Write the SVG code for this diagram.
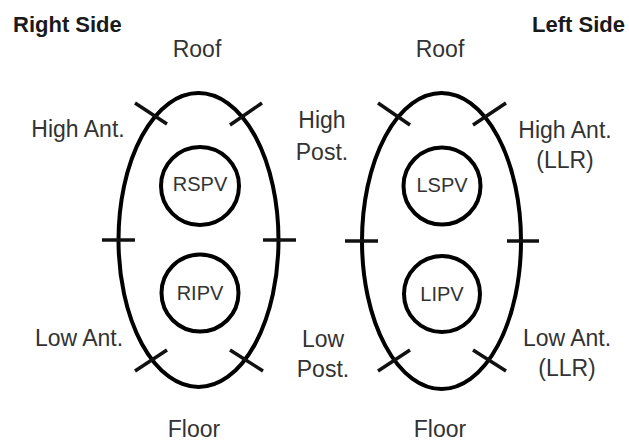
<svg xmlns="http://www.w3.org/2000/svg" width="629" height="443" viewBox="0 0 629 443">
<style>
.shape{fill:none;stroke:#000;stroke-width:4}
.tick{fill:none;stroke:#111;stroke-width:3.5;stroke-linecap:butt}
.lbl{font-family:"Liberation Sans",Arial,sans-serif;font-size:23px;fill:#333;text-anchor:middle}
.pv{font-family:"Liberation Sans",Arial,sans-serif;font-size:20px;fill:#333;text-anchor:middle}
.title{font-family:"Liberation Sans",Arial,sans-serif;font-size:22px;font-weight:bold;fill:#1a1a1a}
</style>
<rect width="629" height="443" fill="#fff"/>
<text class="title" x="13" y="32">Right Side</text>
<text class="title" x="625" y="32" text-anchor="end">Left Side</text>

<g id="right-atrium">
<ellipse class="shape" cx="198.5" cy="240" rx="80" ry="147"/>
</g>
<g id="left-atrium">
<ellipse class="shape" cx="441.5" cy="241" rx="79.5" ry="148"/>
</g>
<g id="RSPV"><circle class="shape" cx="200" cy="186" r="39"/><text class="pv" x="200" y="191">RSPV</text></g>
<g id="RIPV"><circle class="shape" cx="200" cy="293" r="38.5"/><text class="pv" x="200" y="300">RIPV</text></g>
<g id="LSPV"><circle class="shape" cx="442" cy="186" r="38.5"/><text class="pv" x="442" y="192">LSPV</text></g>
<g id="LIPV"><circle class="shape" cx="442" cy="294" r="38"/><text class="pv" x="442" y="301">LIPV</text></g>

<g id="connectors">
<line class="tick" x1="135" y1="103" x2="167" y2="124"/>
<line class="tick" x1="262" y1="103" x2="230" y2="125"/>
<line class="tick" x1="102" y1="240" x2="135" y2="240"/>
<line class="tick" x1="263" y1="240" x2="296" y2="240"/>
<line class="tick" x1="135" y1="371" x2="167" y2="350"/>
<line class="tick" x1="230" y1="350" x2="263" y2="371"/>
<line class="tick" x1="378" y1="103" x2="410" y2="125"/>
<line class="tick" x1="506" y1="103" x2="473" y2="125"/>
<line class="tick" x1="345" y1="241" x2="378" y2="241"/>
<line class="tick" x1="507" y1="241" x2="539" y2="241"/>
<line class="tick" x1="378" y1="371" x2="410" y2="350"/>
<line class="tick" x1="473" y1="350" x2="506" y2="371"/>
</g>

<g id="labels">
<text class="lbl" x="197" y="57">Roof</text>
<text class="lbl" x="440" y="57">Roof</text>
<text class="lbl" x="78" y="137">High Ant.</text>
<text class="lbl" x="322" y="128">High</text>
<text class="lbl" x="322" y="160">Post.</text>
<text class="lbl" x="565" y="138">High Ant.</text>
<text class="lbl" x="565" y="168">(LLR)</text>
<text class="lbl" x="79" y="346">Low Ant.</text>
<text class="lbl" x="323" y="347">Low</text>
<text class="lbl" x="323" y="377">Post.</text>
<text class="lbl" x="567" y="346">Low Ant.</text>
<text class="lbl" x="567" y="376">(LLR)</text>
<text class="lbl" x="194" y="437">Floor</text>
<text class="lbl" x="440" y="437">Floor</text>
</g>
</svg>
